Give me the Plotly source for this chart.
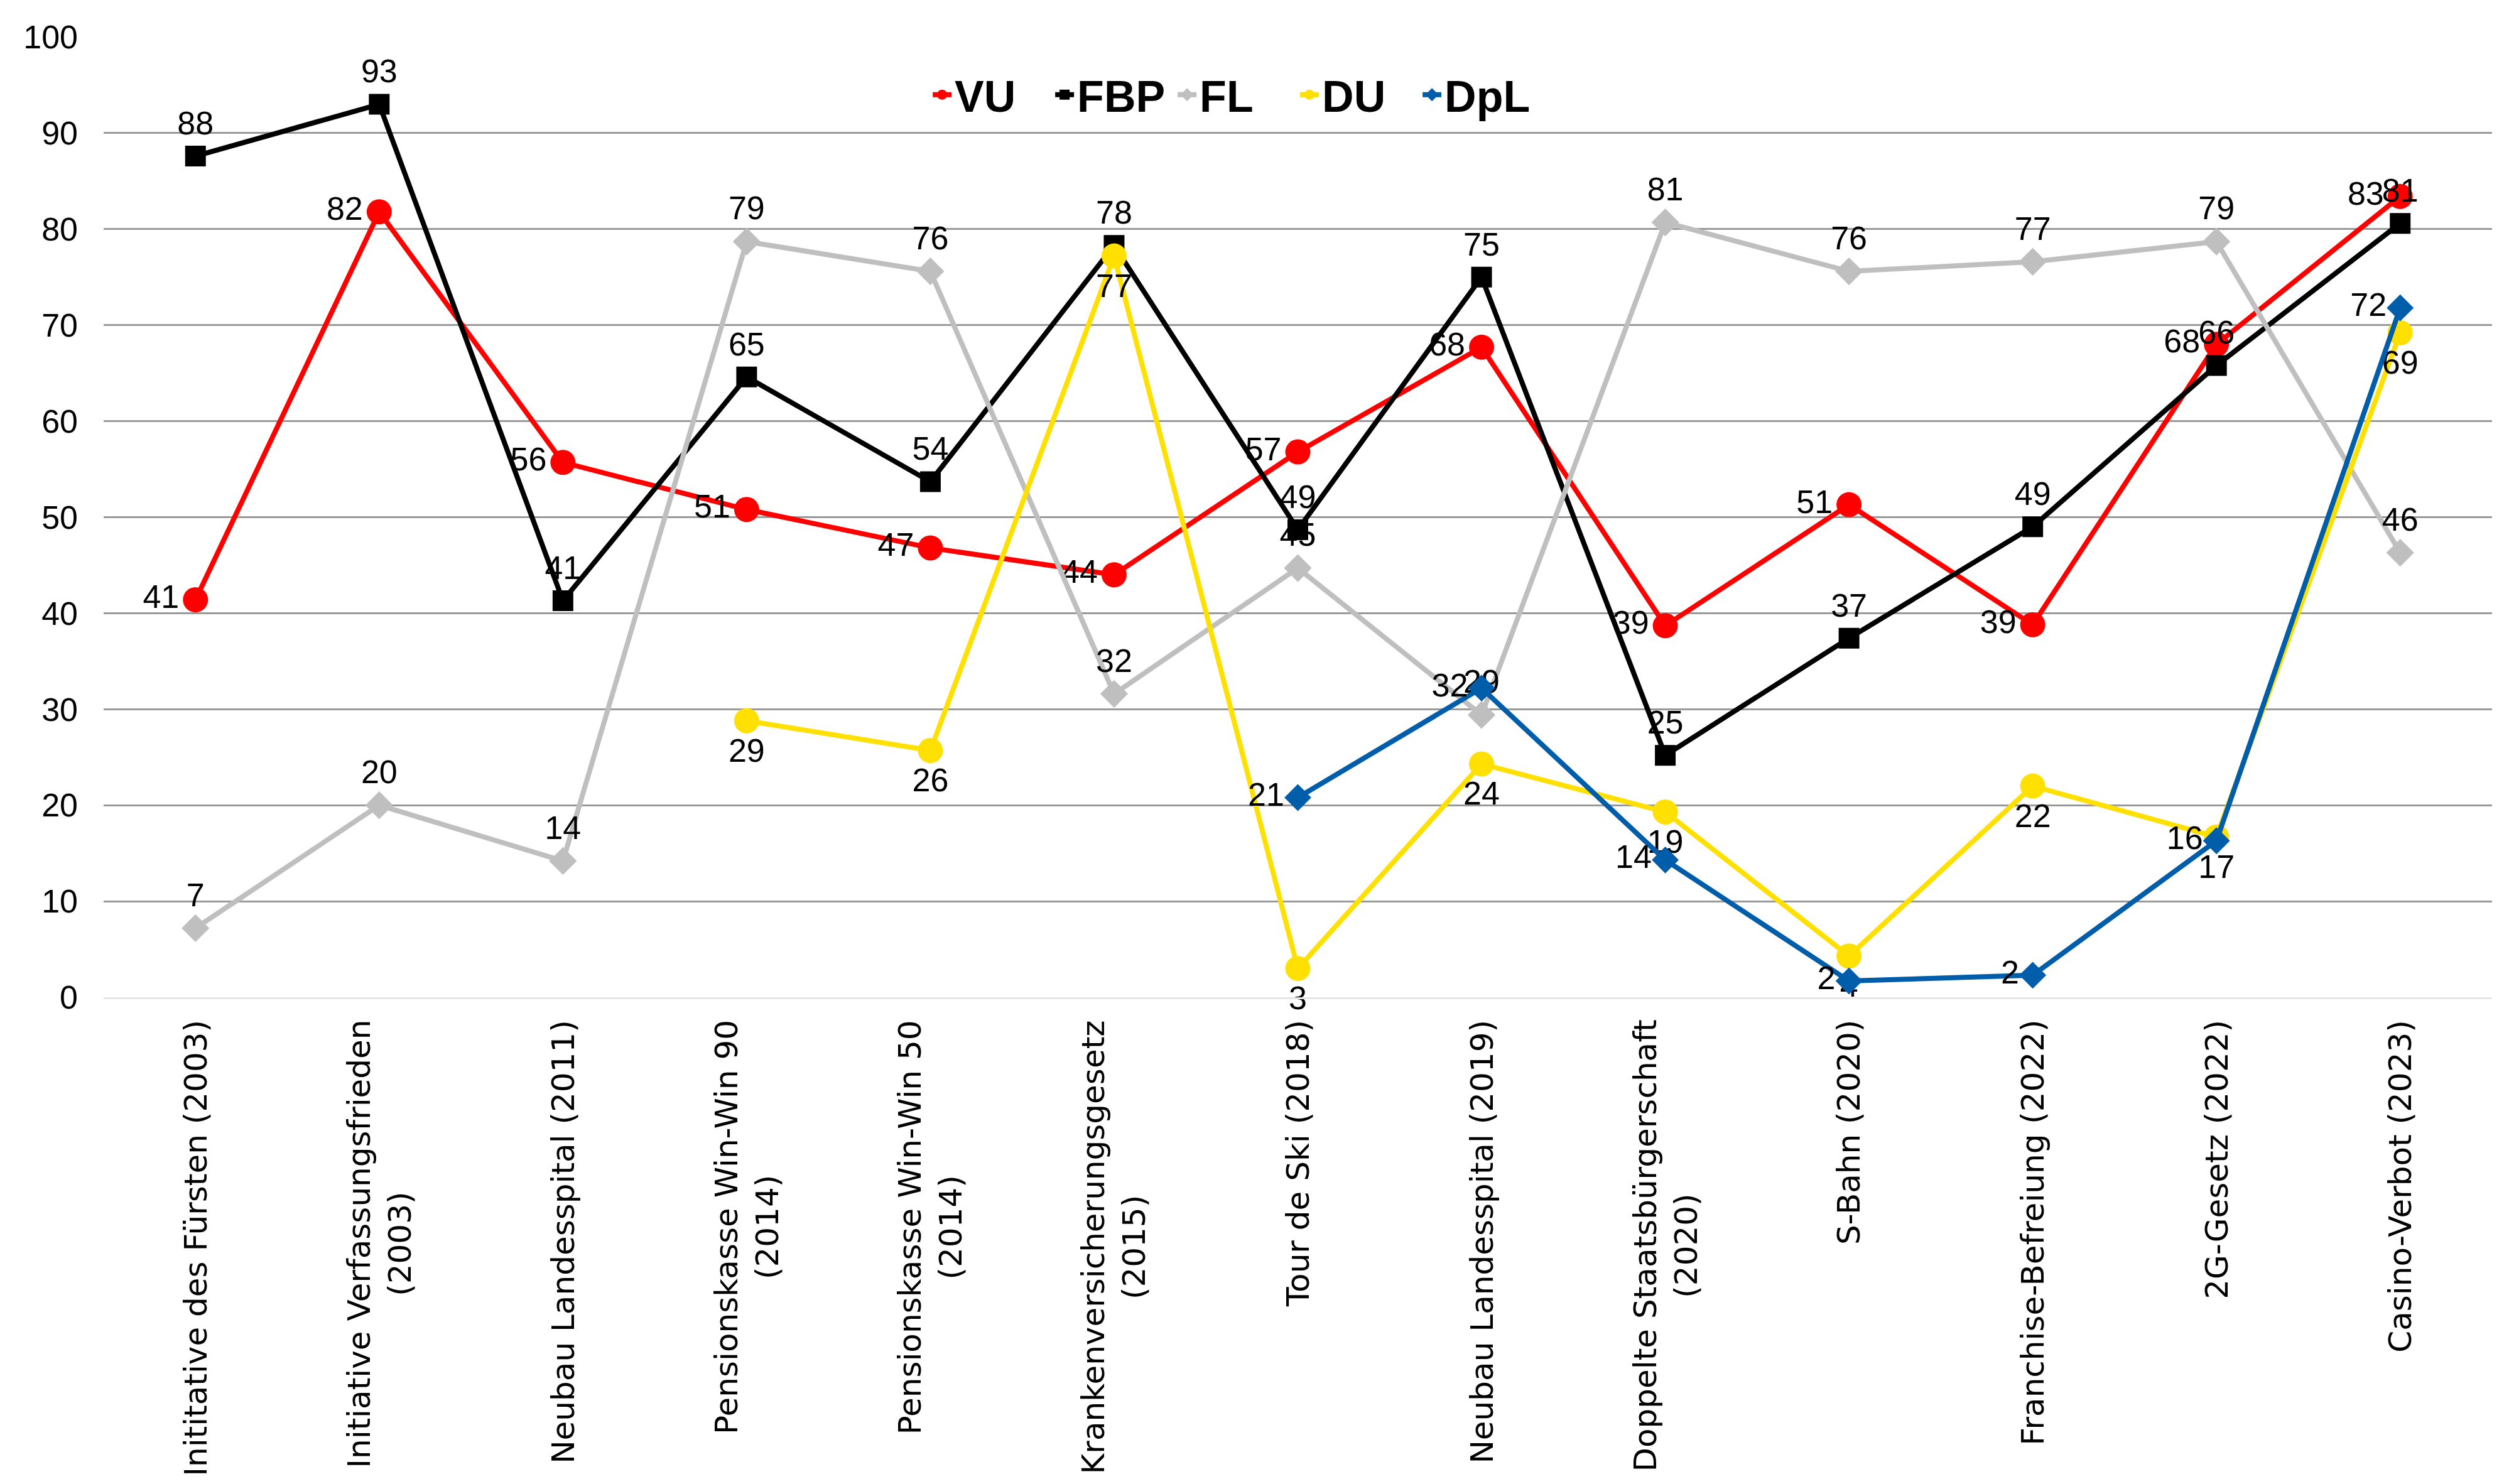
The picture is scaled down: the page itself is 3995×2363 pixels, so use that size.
import plotly.graph_objects as go

categories = [
    "Inititative des Fürsten (2003)",
    "Initiative Verfassungsfrieden<br>(2003)",
    "Neubau Landesspital (2011)",
    "Pensionskasse Win-Win 90<br>(2014)",
    "Pensionskasse Win-Win 50<br>(2014)",
    "Krankenversicherungsgesetz<br>(2015)",
    "Tour de Ski (2018)",
    "Neubau Landesspital (2019)",
    "Doppelte Staatsbürgerschaft<br>(2020)",
    "S-Bahn (2020)",
    "Franchise-Befreiung (2022)",
    "2G-Gesetz (2022)",
    "Casino-Verbot (2023)",
]
keys = [f"c{i}" for i in range(len(categories))]

vu = [41.4, 81.8, 55.7, 50.8, 46.8, 44.0, 56.8, 67.7, 38.7, 51.3, 38.8, 68.0, 83.4]
fbp = [87.6, 93.0, 41.3, 64.6, 53.7, 78.3, 48.7, 75.0, 25.2, 37.4, 49.0, 65.8, 80.6]
fl = [7.2, 20.0, 14.2, 78.7, 75.6, 31.6, 44.7, 29.4, 80.7, 75.6, 76.6, 78.7, 46.3]
du = [None, None, None, 28.8, 25.7, 77.2, 3.0, 24.3, 19.3, 4.3, 22.0, 16.7, 69.2]
dpl = [None, None, None, None, None, None, 20.8, 32.2, 14.3, 1.7, 2.3, 16.3, 71.8]

series = [
    ("VU", vu, "#FF0000", "circle", 40, "middle left"),
    ("FBP", fbp, "#000000", "square", 33, "top center"),
    ("FL", fl, "#BFBFBF", "diamond", 34, "top center"),
    ("DU", du, "#FFE000", "circle", 40, "bottom center"),
    ("DpL", dpl, "#005DAA", "diamond", 33, "middle left"),
]

NUM_FONT = "Liberation Sans, Arial, sans-serif"
CAT_FONT = "DejaVu Sans, Verdana, sans-serif"

fig = go.Figure()
for name, vals, color, symbol, size, tpos in series:
    fig.add_trace(go.Scatter(
        x=keys, y=vals, name=name, mode="lines+markers+text",
        line=dict(color=color, width=8),
        marker=dict(color=color, symbol=symbol, size=size),
        texttemplate="%{y:.0f}", textposition=tpos,
        textfont=dict(family=NUM_FONT, size=52, color="#000000"),
        cliponaxis=False, connectgaps=False,
    ))

for k, lab in zip(keys, categories):
    fig.add_annotation(
        x=k, xref="x", y=0, yref="paper", yanchor="top", xanchor="center",
        yshift=-34, text=lab, textangle=-90, showarrow=False, align="center",
        font=dict(family=CAT_FONT, size=50, color="#000000"),
    )

fig.update_layout(
    width=3995, height=2363,
    margin=dict(l=157, r=35, t=51, b=783),
    paper_bgcolor="white", plot_bgcolor="white",
    showlegend=True,
    legend=dict(
        orientation="h", x=0.474, xanchor="center", y=0.94, yanchor="middle",
        font=dict(family=NUM_FONT, size=70, color="#000000", weight="bold"),
        bgcolor="rgba(0,0,0,0)", itemwidth=30, tracegroupgap=0,
        entrywidth=150, entrywidthmode="pixels",
    ),
    xaxis=dict(
        type="category", categoryorder="array", categoryarray=keys,
        range=[-0.5, len(keys) - 0.5], showticklabels=False, showgrid=False,
        showline=True, linecolor="#E6E6E6", linewidth=3, ticks="", zeroline=False,
    ),
    yaxis=dict(
        range=[0, 100], dtick=10, tick0=0, showgrid=True, gridcolor="#9A9A9A",
        gridwidth=3, zeroline=False, ticks="", ticklabelstandoff=40,
        tickfont=dict(family=NUM_FONT, size=52, color="#000000"),
        showline=False,
    ),
)

fig.write_html("out.html")
